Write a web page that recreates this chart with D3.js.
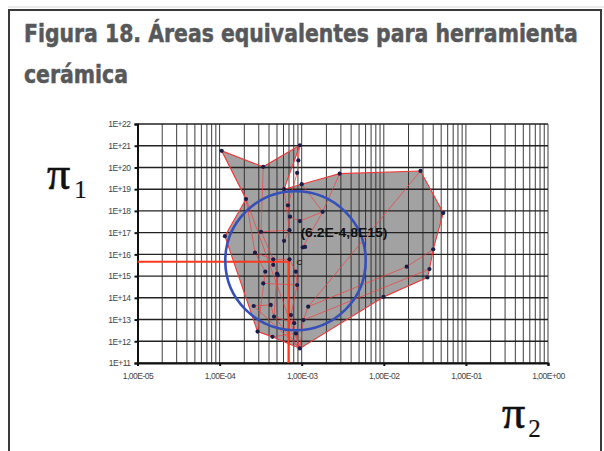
<!DOCTYPE html>
<html><head><meta charset="utf-8">
<script src="https://cdn.jsdelivr.net/npm/d3@7"></script>
<style>
html,body{margin:0;padding:0;background:#fff;}
svg{display:block;}
</style></head>
<body>
<svg id="chart" width="604" height="451"></svg>
<script>
// ---- data ----
const titleLines = ["Figura 18. Áreas equivalentes para herramienta", "cerámica"];
const xTickValues = [1e-5, 1e-4, 1e-3, 1e-2, 1e-1, 1];
const xTickLabels = ["1,00E-05","1,00E-04","1,00E-03","1,00E-02","1,00E-01","1,00E+00"];
const yTickValues = [1e11,1e12,1e13,1e14,1e15,1e16,1e17,1e18,1e19,1e20,1e21,1e22];
const yTickLabels = ["1E+11","1E+12","1E+13","1E+14","1E+15","1E+16","1E+17","1E+18","1E+19","1E+20","1E+21","1E+22"];

// measured points (pi2, pi1)
const points = {
  p1:[1.06e-4,5.8e20], p2:[3.4e-4,1.07e20], p3:[9.5e-4,1.05e21], p4:[9.1e-4,2.1e20],
  p5:[8.8e-4,5.6e19], p6:[2.1e-4,3.5e18], p7:[1.16e-4,6.9e16], p9:[6.8e-4,1.8e18],
  p10:[7.2e-4,5.4e17], p11:[9.5e-4,3.4e17], p12:[2.9e-3,5.2e19], p13:[2.8e-2,6.9e19],
  p14:[5.3e-2,8.1e17], p15:[4.0e-2,1.7e16], p16:[1.9e-2,2.7e15], p17:[3.6e-2,2.1e15],
  p18:[3.4e-2,8.7e14], p19:[9.9e-3,1.1e14], p20:[1.8e-3,9.1e17], p21:[1.2e-3,3.9e13],
  p22:[1.05e-3,9.5e12], p23:[1.1e-3,2.2e16], p24:[9.5e-4,4.7e11], p25:[3.4e-4,4.6e14],
  p26:[8.8e-4,3.9e14], p27:[2.6e-4,4.2e13], p28:[4.2e-4,4.7e13], p29:[4.6e-4,1.35e13],
  p30:[7.4e-4,1.6e13], p31:[2.9e-4,2.8e12], p32:[4.4e-4,1.6e12], p33:[8.1e-4,6.8e12],
  p34:[8.5e-4,2.3e12], p35:[3.2e-4,1.1e17], p36:[7.1e-4,1.3e17], p37:[6.1e-4,4.2e16],
  p38:[1.03e-3,2.1e16], p39:[2.7e-4,1.2e16], p40:[4.5e-4,5.9e15], p41:[7.1e-4,5.9e15],
  p42:[3.6e-4,1.6e15], p43:[5.0e-4,1.3e15], p44:[8.5e-4,1.6e15], p45:[1.0e-3,1.7e19],
  p46:[6.1e-4,1.0e19], p47:[4.5e-4,3.3e15], p48:[5.1e-4,1.1e15]
};
// outline of the equivalent area (union)
const outlineIds = ["p1","p2","p3","p46","p45","p12","p13","p14","p15","p17","p18","p19","p24","p32","p31","p7","p6"];
// interior connecting lines
const innerLines = [
  ["p6","p39","p42","p31"],
  ["p2","p35","p40","p43","p29","p24"],
  ["p46","p36","p41","p44","p26","p30","p24"],
  ["p3","p4","p5","p9","p10","p11","p20","p45"],
  ["p12","p20","p38","p23"],
  ["p13","p21","p22"],
  ["p15","p16","p21"],
  ["p17","p22"],
  ["p18","p19"],
  ["p35","p36","p37"],
  ["p39","p40","p41"],
  ["p27","p28","p29","p33"],
  ["p25","p26"],
  ["p31","p32","p34","p24"],
  ["p27","p24"],
  ["p22","p24"],
  ["p6","p24"],
  ["p1","p6"]
];
// reference point and equivalence circle
const refPoint = [6.9e-4, 4.6e15];
const refLabel = "(6.2E-4,8E15)";
const circleCenter = [8.4e-4, 5.1e15];
const circleSpanDecades = [0.855, 3.2]; // half-extent in decades (x, y)

// ---- drawing ----
const svg = d3.select("#chart");

// frame
svg.append("line").attr("x1",8).attr("x2",604).attr("y1",7).attr("y2",7)
  .attr("stroke","#d8d8d8").attr("stroke-width",1);
svg.append("rect").attr("x",9).attr("y",10).attr("width",592).attr("height",460)
  .attr("fill","#fff").attr("stroke","#3a3a3a").attr("stroke-width",2);

// title (scaled horizontally to the reference width)
const tFont = "'DejaVu Sans Condensed','Liberation Sans Narrow','Roboto Condensed','Roboto',sans-serif";
function titleLine(txt, bx, by, targetW) {
  const t = svg.append("text").attr("x",0).attr("y",0).text(txt)
    .attr("font-family",tFont).attr("font-weight","bold").attr("font-size",25)
    .attr("fill","#57585a").attr("stroke","#57585a").attr("stroke-width",0.5);
  const w = t.node().getComputedTextLength();
  t.attr("transform",`translate(${bx},${by}) scale(${targetW / w},1)`);
}
titleLine(titleLines[0], 24, 42, 554);
titleLine(titleLines[1], 24, 83, 104);

const x = d3.scaleLog().domain([1e-5, 1]).range([137.5, 548]);
const y = d3.scaleLog().domain([1e11, 1e22]).range([363, 124]);
const P = id => [x(points[id][0]), y(points[id][1])];

// area fill
svg.append("path")
  .attr("d", d3.line()(outlineIds.map(P)) + "Z")
  .attr("fill","#a2a2a2").attr("stroke","none");

// grid
const minor = [];
for (let e=-5; e<0; e++) for (let k=1; k<10; k++) minor.push(k*Math.pow(10,e));
minor.push(1);
svg.append("g").selectAll("line").data(minor).join("line")
  .attr("x1",d=>x(d)).attr("x2",d=>x(d)).attr("y1",y(1e22)).attr("y2",y(1e11))
  .attr("stroke","#2a2a2a").attr("stroke-width",1).attr("opacity",0.9);
svg.append("g").selectAll("line").data(yTickValues).join("line")
  .attr("x1",x(1e-5)).attr("x2",x(1)).attr("y1",d=>y(d)).attr("y2",d=>y(d))
  .attr("stroke","#222").attr("stroke-width",1.4);

// area outline
svg.append("path")
  .attr("d", d3.line()(outlineIds.map(P)) + "Z")
  .attr("fill","none").attr("stroke","#f03a3a").attr("stroke-width",1.1);
// inner lines
svg.append("g").selectAll("path").data(innerLines).join("path")
  .attr("d", d => d3.line()(d.map(P)))
  .attr("fill","none").attr("stroke","#f04040").attr("stroke-width",0.8).attr("opacity",0.9);

// axes
const yAxis = d3.axisLeft(y).tickValues(yTickValues).tickFormat((d,i)=>yTickLabels[i]).tickSize(3).tickPadding(4);
const gy = svg.append("g").attr("transform",`translate(${x(1e-5)},0)`).call(yAxis);
const xAxis = d3.axisBottom(x).tickValues(xTickValues).tickFormat((d,i)=>xTickLabels[i]).tickSize(3).tickPadding(7);
const gx = svg.append("g").attr("transform",`translate(0,${y(1e11)})`).call(xAxis);
[gx, gy].forEach(g => {
  g.select(".domain").attr("stroke","#111").attr("stroke-width",2);
  g.selectAll(".tick line").attr("stroke","#111").attr("stroke-width",2);
  g.selectAll(".tick text").attr("font-family","'Liberation Sans',Arial,sans-serif")
    .attr("font-size",8.5).attr("fill","#444").attr("letter-spacing","-0.5");
});

// reference crosshair
svg.append("path")
  .attr("d", d3.line()([[x(1e-5), y(refPoint[1])],[x(refPoint[0]), y(refPoint[1])],[x(refPoint[0]), y(1e11)]]))
  .attr("fill","none").attr("stroke","#ff3a1e").attr("stroke-width",2);

// points
svg.append("g").selectAll("circle").data(Object.keys(points)).join("circle")
  .attr("cx",d=>P(d)[0]).attr("cy",d=>P(d)[1]).attr("r",2.1)
  .attr("fill","#1c1c48");

// circle
const cx = x(circleCenter[0]), cy = y(circleCenter[1]);
const rx = x(circleCenter[0]*Math.pow(10,circleSpanDecades[0])) - cx;
const ry = cy - y(circleCenter[1]*Math.pow(10,circleSpanDecades[1]));
svg.append("ellipse").attr("cx",cx).attr("cy",cy).attr("rx",rx).attr("ry",ry)
  .attr("fill","none").attr("stroke","#3550b8").attr("stroke-width",2.6);

// labels
svg.append("text").attr("x",x(refPoint[0])+12).attr("y",y(refPoint[1])-25).text(refLabel)
  .attr("font-family","'Liberation Sans',Arial,sans-serif").attr("font-weight","bold")
  .attr("font-size",12).attr("fill","#111").attr("textLength",87).attr("lengthAdjust","spacingAndGlyphs");
svg.append("text").attr("x",x(refPoint[0])+8).attr("y",y(refPoint[1])+3).text("C")
  .attr("font-family","'Liberation Sans',Arial,sans-serif").attr("font-weight","bold")
  .attr("font-size",8).attr("fill","#222");

// pi axis titles
const piFont = "'Liberation Serif','DejaVu Serif',serif";
const pi1 = svg.append("text").attr("x",47).attr("y",189).attr("font-family",piFont)
  .attr("fill","#111").attr("stroke","#111").attr("stroke-width",0.6);
pi1.append("tspan").attr("font-size",46).text("π");
pi1.append("tspan").attr("font-size",25).attr("dx",4).attr("dy",9).attr("stroke-width",0.2).text("1");
const pi2 = svg.append("text").attr("x",502).attr("y",428).attr("font-family",piFont)
  .attr("fill","#111").attr("stroke","#111").attr("stroke-width",0.6);
pi2.append("tspan").attr("font-size",46).text("π");
pi2.append("tspan").attr("font-size",25).attr("dx",3).attr("dy",9).attr("stroke-width",0.2).text("2");
</script>
</body></html>
